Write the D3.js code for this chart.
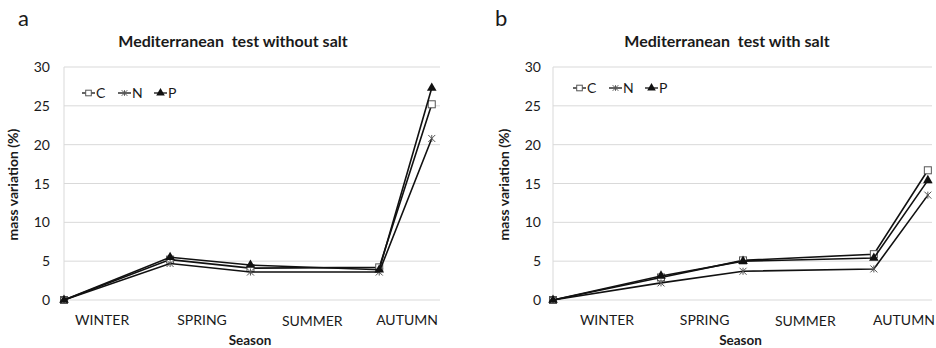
<!DOCTYPE html>
<html>
<head>
<meta charset="utf-8">
<script src="https://cdn.jsdelivr.net/npm/d3@7"></script>
<style>
  body { margin: 0; background: #fff; }
  svg text { font-family: Lato, "Open Sans", sans-serif; fill: #1a1a1a; }
</style>
</head>
<body>
<div id="chart"></div>
<script>
// sampling day of the year
var daysA = [0, 103, 181, 306, 357];
var daysB = [0, 104, 183, 309, 361];
var seasons = ["WINTER", "SPRING", "SUMMER", "AUTUMN"];
var seasonDaysA = [37, 134, 241, 333];
var seasonDaysB = [52, 146, 243, 338];
var yTicks = [0, 5, 10, 15, 20, 25, 30];
var seriesNames = ["C", "N", "P"];

// mass variation (%) - without salt
var noSaltC = [0, 5.2, 4.1, 4.2, 25.2];
var noSaltN = [0, 4.7, 3.6, 3.6, 20.8];
var noSaltP = [0, 5.5, 4.5, 3.9, 27.3];
// mass variation (%) - with salt
var saltC = [0, 2.9, 5.1, 5.9, 16.7];
var saltN = [0, 2.2, 3.7, 4.0, 13.5];
var saltP = [0, 3.1, 5.0, 5.4, 15.4];

var svg = d3.select("#chart").append("svg")
	.attr("width", 936)
	.attr("height", 348);

drawPanel({
	letter: "a", letterX: 18,
	title: "Mediterranean  test without salt", titleX: 233,
	x0: 64, x1: 440, days: daysA, seasonDays: seasonDaysA,
	ylabX: 13, tickX: 50, legendX: 82, legendY: 93,
	series: [noSaltC, noSaltN, noSaltP]
});
drawPanel({
	letter: "b", letterX: 495,
	title: "Mediterranean  test with salt", titleX: 727,
	x0: 553, x1: 932, days: daysB, seasonDays: seasonDaysB,
	ylabX: 504, tickX: 541, legendX: 573, legendY: 88,
	series: [saltC, saltN, saltP]
});

function drawPanel(o) {
	var g = svg.append("g");
	var x = d3.scaleLinear().domain([0, 365]).range([o.x0, o.x1]);
	var y = d3.scaleLinear().domain([0, 30]).range([300, 67]);

	g.append("text")
		.attr("x", o.letterX).attr("y", 26)
		.style("font-size", "22px")
		.text(o.letter);

	g.append("text")
		.attr("x", o.titleX).attr("y", 47)
		.attr("text-anchor", "middle")
		.style("font-size", "16px")
		.style("font-weight", "bold")
		.style("white-space", "pre")
		.text(o.title);

	//grid
	g.selectAll(".grid").data(yTicks).enter().append("line")
		.attr("x1", o.x0).attr("x2", o.x1)
		.attr("y1", function(d) { return y(d); })
		.attr("y2", function(d) { return y(d); })
		.attr("stroke", "#d9d9d9").attr("stroke-width", 1);
	g.append("line")
		.attr("x1", o.x0).attr("x2", o.x0)
		.attr("y1", y(30)).attr("y2", y(0))
		.attr("stroke", "#d9d9d9");

	g.selectAll(".ytick").data(yTicks).enter().append("text")
		.attr("x", o.tickX)
		.attr("y", function(d) { return y(d) + 5; })
		.attr("text-anchor", "end")
		.style("font-size", "14px")
		.text(function(d) { return d; });

	g.append("text")
		.attr("transform", "translate(" + (o.ylabX + 5) + "," + (y(15) + 1) + ") rotate(-90)")
		.attr("text-anchor", "middle")
		.style("font-size", "14px")
		.style("font-weight", "bold")
		.text("mass variation (%)");

	g.selectAll(".season").data(seasons).enter().append("text")
		.attr("x", function(d, i) { return x(o.seasonDays[i]); })
		.attr("y", function(d, i) { return i == 2 ? 326 : 325; })
		.attr("text-anchor", "middle")
		.style("font-size", "14px")
		.text(function(d) { return d; });

	g.append("text")
		.attr("x", (o.x0 + o.x1) / 2 - 2).attr("y", 345)
		.attr("text-anchor", "middle")
		.style("font-size", "13.5px")
		.style("font-weight", "bold")
		.text("Season");

	var line = d3.line()
		.x(function(d, i) { return x(o.days[i]); })
		.y(function(d) { return y(d); });

	o.series.forEach(function(vals, k) {
		g.append("path")
			.datum(vals)
			.attr("d", line)
			.attr("fill", "none")
			.attr("stroke", "#111")
			.attr("stroke-width", 1.6);
		vals.forEach(function(v, i) {
			marker(g, k, x(o.days[i]), y(v));
		});
	});

	//legend
	seriesNames.forEach(function(name, k) {
		var lx = o.legendX + k * 36;
		g.append("line")
			.attr("x1", lx).attr("x2", lx + 13)
			.attr("y1", o.legendY).attr("y2", o.legendY)
			.attr("stroke", "#111").attr("stroke-width", 1.3);
		marker(g, k, lx + 6.5, o.legendY, 0.8);
		g.append("text")
			.attr("x", lx + 14).attr("y", o.legendY + 5)
			.style("font-size", "14px")
			.text(name);
	});
}

function marker(g, k, cx, cy, s) {
	s = s || 1;
	if (k == 0) {
		g.append("rect")
			.attr("x", cx - 3.5 * s).attr("y", cy - 3.5 * s)
			.attr("width", 7 * s).attr("height", 7 * s)
			.attr("fill", "#fff").attr("stroke", "#555").attr("stroke-width", 1);
	} else if (k == 1) {
		var r = 3.5 * s;
		var p = d3.path();
		p.moveTo(-r, -r); p.lineTo(r, r);
		p.moveTo(-r, r); p.lineTo(r, -r);
		p.moveTo(0, -r); p.lineTo(0, r);
		g.append("path")
			.attr("transform", "translate(" + cx + "," + cy + ")")
			.attr("d", p.toString())
			.attr("fill", "none").attr("stroke", "#555").attr("stroke-width", 1);
	} else {
		g.append("path")
			.attr("transform", "translate(" + cx + "," + cy + ")")
			.attr("d", d3.symbol(d3.symbolTriangle, 40 * s)())
			.attr("fill", "#111");
	}
}
</script>
</body>
</html>
